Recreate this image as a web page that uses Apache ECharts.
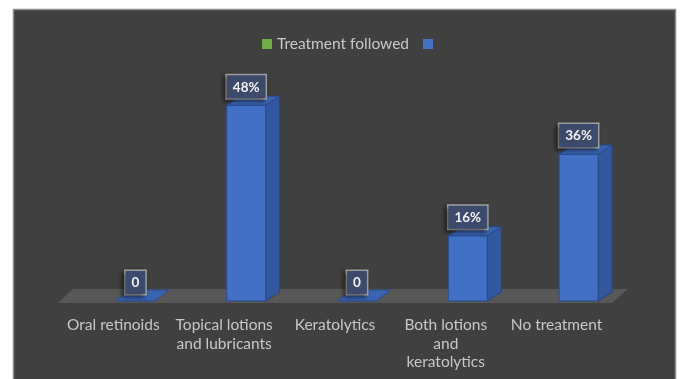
<!DOCTYPE html>
<html>
<head>
<meta charset="utf-8">
<style>
  html, body { margin: 0; padding: 0; background: #ffffff; }
  #chart { width: 682px; height: 379px; }
</style>
<script src="https://cdn.jsdelivr.net/npm/echarts@6/dist/echarts.min.js"></script>
</head>
<body>
<div id="chart"></div>
<script>
// Categories (multi-line labels) and the share of patients for each
const categories = [
  'Oral retinoids',
  'Topical lotions\nand lubricants',
  'Keratolytics',
  'Both lotions\nand\nkeratolytics',
  'No treatment'
];
const shares = [0, 48, 0, 16, 36];
const legendNames = ['Treatment followed', ' '];

const FONT = 'Lato, "Open Sans", sans-serif';

// oblique projection used for the pseudo-3D look
const BAR_SHIFT = 22;   // bars sit behind the front edge of the floor
const HALF_W = 19.5;
const DEPTH_X = 14;
const DEPTH_Y = -9;

function labelText(v) {
  return v === 0 ? '0' : v + '%';
}

function renderBar(params, api) {
  const idx = api.value(0);
  const val = api.value(1);
  const base = api.coord([idx, 0]);
  const top = api.coord([idx, val]);
  const cx = base[0] + BAR_SHIFT;
  const xl = cx - HALF_W, xr = cx + HALF_W;
  const yb = base[1], yt = top[1];
  const children = [];
  const dy = val === 0 ? -11 : DEPTH_Y;
  if (val > 0) {
    // side face
    children.push({
      type: 'polygon',
      shape: { points: [[xr, yt], [xr + DEPTH_X, yt + dy], [xr + DEPTH_X, yb + dy], [xr, yb]] },
      style: { fill: '#3258a0', stroke: '#27457e', lineWidth: 1 }
    });
    // front face
    children.push({
      type: 'rect',
      shape: { x: xl, y: yt, width: xr - xl, height: yb - yt },
      style: { fill: '#4270c4', stroke: '#2a4b8a', lineWidth: 1 }
    });
  }
  // top face
  children.push({
    type: 'polygon',
    shape: { points: [[xl, yt], [xl + DEPTH_X, yt + dy], [xr + DEPTH_X, yt + dy], [xr, yt]] },
    style: { fill: '#3a64b2', stroke: '#2a4b8a', lineWidth: 1 }
  });
  // value label box
  children.push({
    type: 'text',
    z2: 10,
    style: {
      x: cx, y: yt - 7,
      text: labelText(val),
      align: 'center', verticalAlign: 'bottom',
      fill: '#f2f2f2', font: 'bold 13.5px ' + FONT,
      backgroundColor: '#3c4b6b',
      borderColor: '#a6a6a6', borderWidth: 1.5,
      padding: [5, 6, 4, 6],
      shadowBlur: 4, shadowColor: 'rgba(0,0,0,0.45)', shadowOffsetX: -2, shadowOffsetY: 2
    }
  });
  return { type: 'group', children: children };
}

function renderFloor(params, api) {
  const cs = params.coordSys;
  const y0 = api.coord([0, 0])[1] + 2;
  const x0 = cs.x, x1 = cs.x + cs.width;
  return {
    type: 'polygon',
    shape: { points: [[x0, y0], [x0 + 15, y0 - 14], [x1 + 16, y0 - 14], [x1, y0]] },
    style: { fill: '#585858' }
  };
}

const chart = echarts.init(document.getElementById('chart'), null, { renderer: 'canvas' });
chart.setOption({
  backgroundColor: '#ffffff',
  animation: false,
  graphic: [{
    type: 'rect', z: -10,
    shape: { x: 13.5, y: 9.5, width: 662, height: 372 },
    style: { fill: '#404040', stroke: '#8a8a8a', lineWidth: 1.5 }
  }],
  legend: {
    data: legendNames,
    left: 257, top: 31,
    icon: 'rect', itemWidth: 10, itemHeight: 10, itemGap: 14,
    textStyle: { color: '#c8c8c8', fontSize: 15.5, fontFamily: FONT }
  },
  grid: { left: 58, right: 70, top: 97, bottom: 78 },
  xAxis: {
    type: 'category',
    data: categories,
    axisLine: { show: false },
    axisTick: { show: false },
    axisLabel: {
      color: '#c8c8c8', fontSize: 15.5, fontFamily: FONT,
      lineHeight: 18.5, margin: 15, interval: 0
    }
  },
  yAxis: {
    type: 'value', min: 0, max: 50,
    show: false, splitLine: { show: false }
  },
  series: [
    {
      name: 'floor', type: 'custom', silent: true, z: 1,
      renderItem: renderFloor, data: [[0, 0]], legendHoverLink: false
    },
    {
      name: legendNames[0], type: 'custom',
      itemStyle: { color: '#70ad47' },
      renderItem: function () { return null; }, data: []
    },
    {
      name: legendNames[1], type: 'custom', z: 2,
      itemStyle: { color: '#4472c4' },
      renderItem: renderBar,
      encode: { x: 0, y: 1 },
      data: shares.map(function (v, i) { return [i, v]; })
    }
  ]
});
</script>
</body>
</html>
